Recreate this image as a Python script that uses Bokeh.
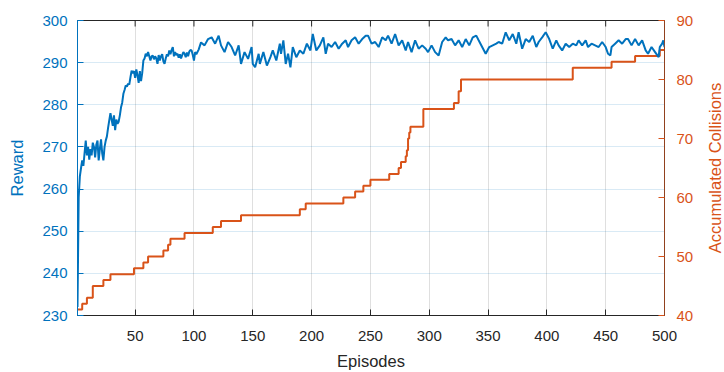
import math
from bokeh.plotting import figure
from bokeh.layouts import row
from bokeh.models import Range1d, LinearAxis, FixedTicker
from bokeh.core.properties import value
from bokeh.embed import file_html
from bokeh.resources import INLINE

# ---------------- data ----------------
reward_ep = [
    1, 2, 3, 4, 5, 6, 7, 8, 9, 10, 11, 12, 13, 14, 15, 16, 17, 18, 19, 20,
    21, 22, 23, 24, 25, 26, 27, 28, 29, 30, 31, 32, 33, 34, 35, 36, 37, 38, 39, 40,
    41, 42, 43, 44, 45, 46, 47, 48, 49, 50, 51, 52, 53, 54, 55, 56, 57, 58, 59, 60,
    61, 62, 63, 64, 65, 66, 67, 68, 69, 70, 71, 72, 73, 74, 75, 76, 77, 78, 79, 80,
    81, 82, 83, 84, 85, 86, 87, 88, 89, 90, 91, 92, 93, 94, 95, 96, 97, 98, 99, 100,
    101, 102,
    104, 106, 109, 112, 115, 118, 121, 123, 126, 129, 132, 135, 138, 140, 143, 146,
    149, 150, 152, 155, 156, 159, 162, 165, 167, 170, 173, 174, 176, 178, 180, 182,
    184, 187, 190, 193, 196, 199, 201, 204, 207, 210,
    212, 214, 217, 220, 223, 226, 229, 231, 234, 237, 240, 243, 246, 248, 251, 254,
    257, 260, 263, 265, 268, 271, 274, 277, 280, 282, 285, 288, 291, 294, 297, 299,
    302, 305, 308, 311, 314, 316, 319,
    322, 325, 328, 331, 334, 337, 340, 342, 345, 348, 351, 354, 357, 359, 362, 365,
    368, 371, 374, 376, 379, 382, 385, 388, 391, 393, 396, 399, 402, 405, 408, 410,
    413, 416, 419, 422, 425, 427,
    430, 433, 435, 438, 441, 444, 447, 450, 452, 454, 455, 458, 461, 464, 467, 469,
    472, 475, 478, 481, 484, 486, 489, 492, 495, 496, 498, 499, 500,
]
reward = [
    232, 258, 263, 265, 266.8, 265.5, 268.5, 271.5, 268, 270, 267, 269.5, 268, 271, 270, 267.5, 270.5, 271.5, 266.8, 269.5,
    271.8, 268.5, 266.8, 270, 271.5, 272.5, 274.5, 276.3, 278, 276.5, 275, 277.5, 274, 276.5, 275.5, 276, 277.5, 279.4, 280.5, 282.6,
    283.5, 284.6, 284.3, 285, 284.8, 286.5, 288.1, 287.5, 288, 286.4, 288.4, 287, 285.2, 288, 285.6, 287.5, 290.5, 291, 292.1, 291.5,
    292.5, 291.5, 290.5, 291.5, 291.7, 290.8, 291.5, 291, 289.7, 291.8, 290.5, 291.5, 292, 290.3, 289.7, 291, 292, 291.5, 292.9, 292,
    293, 293.7, 291.5, 292.5, 291.8, 292.1, 291.2, 292, 291, 291.8, 292.5, 292.1, 291.3, 292.4, 291.5, 292.6, 293, 292.9, 291.8, 290.5,
    292.5, 292,
    293.1, 294.8, 294.1, 295.6, 296.0, 294.5, 296.4, 294.1, 292.5, 294.9, 293.7, 291.7, 294.1, 289.7, 292.5, 290.9,
    293.7, 289.7, 288.9, 292.1, 289.7, 292.5, 289.3, 291.3, 292.9, 290.5, 294.5, 292.1, 295.3, 289.7, 292.1, 288.9,
    293.7, 291.3, 292.9, 292.1, 294.5, 292.9, 296.8, 292.9, 294.1, 296.0,
    292.1, 294.5, 293.7, 294.9, 293.3, 294.5, 295.3, 293.7, 295.3, 296.0, 294.5, 295.6, 296.4, 296.4, 294.5, 294.9,
    293.7, 296.0, 295.3, 296.4, 294.5, 296.8, 294.1, 295.3, 292.9, 294.9, 292.5, 295.3, 293.3, 294.1, 293.3, 292.5,
    294.1, 292.5, 291.7, 294.9, 296.0, 295.3, 295.6,
    294.1, 295.3, 293.7, 295.6, 294.1, 296.0, 296.4, 295.3, 293.7, 292.1, 293.7, 294.1, 294.5, 294.9, 294.5, 297.2,
    295.3, 296.8, 294.5, 297.2, 293.3, 295.6, 294.9, 296.4, 293.7, 294.9, 296.0, 297.2, 295.6, 293.3, 295.3, 294.1,
    292.9, 294.5, 293.7, 294.5, 294.1, 295.3,
    294.1, 295.3, 293.7, 294.5, 294.1, 293.7, 294.9, 293.7, 292.1, 291.7, 293.7, 294.5, 295.3, 294.5, 295.6, 295.6,
    294.1, 295.6, 294.1, 295.3, 292.9, 292.1, 293.7, 292.5, 291.3, 293.7, 294.5, 295.3, 293.7,
]

collision_ep = [1, 5, 9, 14, 23, 29, 49, 57, 61, 74, 78, 80, 92, 116, 123, 140,
                190, 195, 227, 237, 244, 250, 266, 274, 276, 280, 281, 282, 283, 284,
                295, 321, 325, 327, 422, 455, 475, 496, 500]
collisions = [41, 42, 43, 45, 46, 47, 48, 49, 50, 51, 52, 53, 54, 55, 56, 57,
              58, 59, 60, 61, 62, 63, 64, 65, 66, 67, 68, 70, 71, 72,
              75, 76, 78, 80, 82, 83, 84, 85, 85]

x_ticks = [50, 100, 150, 200, 250, 300, 350, 400, 450, 500]
reward_ticks = [230, 240, 250, 260, 270, 280, 290, 300]
collision_ticks = [40, 50, 60, 70, 80, 90]
right_title = ["Accumulated Collisions"]

# ---------------- styling ----------------
BLUE = "#0072BD"
ORANGE = "#D95319"
DARK = "#262626"
FONT = "Liberation Sans"

p = figure(width=704, height=372, output_backend="svg", toolbar_location=None,
           x_range=Range1d(1, 500), y_range=Range1d(230, 300),
           min_border_left=77, min_border_right=40, min_border_top=20,
           min_border_bottom=57, background_fill_color="white",
           border_fill_color="white", outline_line_color=DARK)

p.extra_y_ranges = {"coll": Range1d(40, 90)}

# grid
p.xgrid.ticker = FixedTicker(ticks=x_ticks)
p.xgrid.grid_line_color = DARK
p.xgrid.grid_line_alpha = 0.15
p.ygrid.ticker = FixedTicker(ticks=reward_ticks)
p.ygrid.grid_line_color = BLUE
p.ygrid.grid_line_alpha = 0.15

# bottom axis
xa = p.xaxis[0]
xa.ticker = FixedTicker(ticks=x_ticks)
xa.axis_label = "Episodes"
xa.axis_line_color = DARK
xa.major_tick_line_color = DARK
xa.major_tick_in = 6
xa.major_tick_out = 0
xa.minor_tick_line_color = None
xa.major_label_text_color = DARK
xa.major_label_text_font = FONT
xa.major_label_text_font_size = "15px"
xa.major_label_standoff = 15
xa.axis_label_text_color = DARK
xa.axis_label_text_font = FONT
xa.axis_label_text_font_size = "16.5px"
xa.axis_label_text_font_style = "normal"
xa.axis_label_standoff = 8

# left axis
ya = p.yaxis[0]
ya.ticker = FixedTicker(ticks=reward_ticks)
ya.axis_label = "Reward"
ya.axis_line_color = BLUE
ya.major_tick_line_color = BLUE
ya.major_tick_in = 6
ya.major_tick_out = 0
ya.minor_tick_line_color = None
ya.major_label_text_color = BLUE
ya.major_label_text_font = FONT
ya.major_label_text_font_size = "15px"
ya.major_label_standoff = 10
ya.axis_label_text_color = BLUE
ya.axis_label_text_font = FONT
ya.axis_label_text_font_size = "16.5px"
ya.axis_label_text_font_style = "normal"
ya.axis_label_standoff = 13

# right axis (ticks and numbers)
ra = LinearAxis(y_range_name="coll", ticker=FixedTicker(ticks=collision_ticks))
ra.axis_line_color = ORANGE
ra.axis_line_alpha = 0.6
ra.major_tick_line_color = ORANGE
ra.major_tick_in = 6
ra.major_tick_out = 0
ra.minor_tick_line_color = None
ra.major_label_text_color = ORANGE
ra.major_label_text_font = FONT
ra.major_label_text_font_size = "15px"
ra.major_label_standoff = 12
p.add_layout(ra, "right")

# inward tick marks on the top border (half of each dash is clipped by the frame)
p.scatter(x_ticks, [p.y_range.end] * len(x_ticks), marker="dash", angle=math.pi / 2,
          size=12, line_color=DARK, line_width=1)

# data
p.step(collision_ep, collisions, mode="after", y_range_name="coll",
       line_color=ORANGE, line_width=2)
p.line(reward_ep, reward, line_color=BLUE, line_width=2)

# narrow strip holding the right-axis title, reading bottom-to-top
t = figure(width=20, height=372, output_backend="svg", toolbar_location=None,
           x_range=Range1d(0, 1), y_range=Range1d(0, 1),
           min_border_left=0, min_border_right=0, min_border_top=20,
           min_border_bottom=57, outline_line_color=None,
           background_fill_color="white", border_fill_color="white")
t.axis.visible = False
t.grid.visible = False
t.text(x=[0.5], y=[0.5], text=right_title, angle=math.pi / 2,
       text_align="center", text_baseline="middle", text_color=ORANGE,
       text_font=value(FONT), text_font_size="16.5px")

open("out.html", "w").write(file_html(row(p, t, spacing=0), INLINE))
